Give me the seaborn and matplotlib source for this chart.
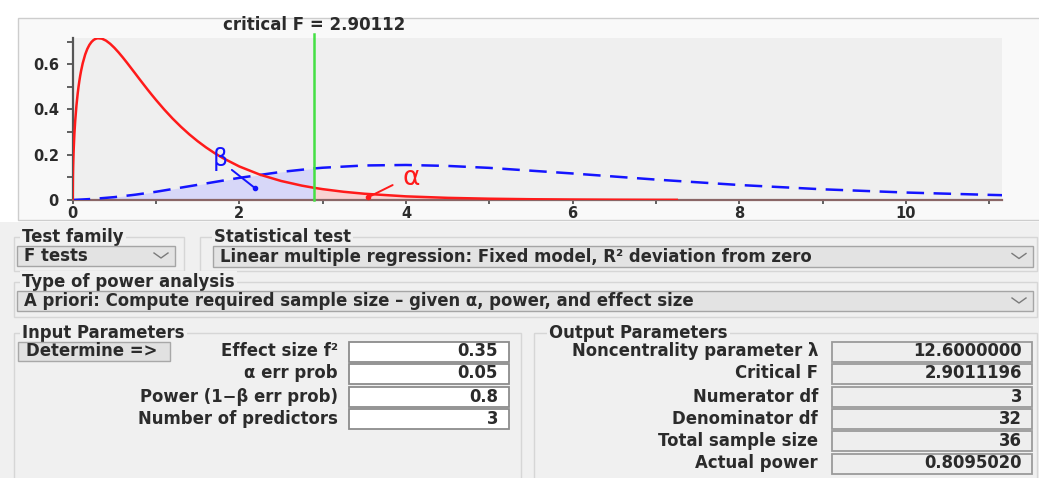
import numpy as np
import pandas as pd
import matplotlib
matplotlib.use("Agg")
import matplotlib.pyplot as plt
from matplotlib.patches import Rectangle
from matplotlib.ticker import FixedLocator
import seaborn as sns

# ---------------- data ----------------
central_x = [0, 0.0025, 0.005, 0.01, 0.02, 0.03, 0.045, 0.06, 0.07, 0.08, 0.09, 0.1,
             0.12, 0.15, 0.175, 0.2, 0.225, 0.25, 0.275, 0.3, 0.35, 0.4, 0.45, 0.5,
             0.55, 0.6, 0.65, 0.7, 0.75, 0.8, 0.85, 0.9, 0.95, 1.0, 1.1, 1.2, 1.3,
             1.4, 1.5, 1.6, 1.7, 1.8, 2.0, 2.25, 2.5, 2.75, 2.9, 3.0, 3.25, 3.5, 4.0,
             4.5, 5.0, 5.5, 6.0, 6.5, 7.0, 7.25]
central_y = [0, 0.1056, 0.1488, 0.2086, 0.2903, 0.3497, 0.4180, 0.4709, 0.5005,
             0.5264, 0.5493, 0.5696, 0.6041, 0.6434, 0.6674, 0.6853, 0.6982, 0.7071,
             0.7124, 0.7149, 0.7132, 0.7044, 0.6904, 0.6728, 0.6526, 0.6306, 0.6074,
             0.5834, 0.5594, 0.5351, 0.5112, 0.4875, 0.4645, 0.4421, 0.3993, 0.3596,
             0.3233, 0.2900, 0.2598, 0.2325, 0.2079, 0.1858, 0.1482, 0.1117, 0.0842,
             0.0635, 0.0537, 0.0480, 0.0364, 0.0277, 0.0161, 0.0095, 0.0057, 0.0034,
             0.0021, 0.0013, 0.0008, 0.0007]
noncentral_x = [0, 0.25, 0.5, 0.75, 1.0, 1.5, 2.0, 2.5, 2.9, 3.0, 3.5, 4.0, 4.5, 5.0,
                6.0, 7.0, 8.0, 9.0, 10.0, 11.0, 11.2]
noncentral_y = [0, 0.0050, 0.0127, 0.0234, 0.0364, 0.0670, 0.0979, 0.1241, 0.1396,
                0.1426, 0.1526, 0.1548, 0.1506, 0.1420, 0.1172, 0.0902, 0.0663, 0.0473,
                0.0330, 0.0227, 0.0209]
critical_f = 2.90112
x_major_ticks = [0, 2, 4, 6, 8, 10]
x_minor_ticks = [1, 3, 5, 7, 9, 11]
y_major_ticks = [0, 0.2, 0.4, 0.6]
y_major_labels = ["0", "0.2", "0.4", "0.6"]
y_minor_ticks = [0.1, 0.3, 0.5, 0.7]

test_family = "F tests"
statistical_test = "Linear multiple regression: Fixed model, R\u00b2 deviation from zero"
analysis_type = "A priori: Compute required sample size \u2013 given \u03b1, power, and effect size"
input_labels = ["Effect size f\u00b2", "\u03b1 err prob", "Power (1\u2212\u03b2 err prob)",
                "Number of predictors"]
input_values = ["0.35", "0.05", "0.8", "3"]
output_labels = ["Noncentrality parameter \u03bb", "Critical F", "Numerator df",
                 "Denominator df", "Total sample size", "Actual power"]
output_values = ["12.6000000", "2.9011196", "3", "32", "36", "0.8095020"]

# ---------------- figure ----------------
W, H = 1039, 478
fig = plt.figure(figsize=(W / 100, H / 100), dpi=100, facecolor="white")
plt.rcParams["font.family"] = ["DejaVu Sans"]

ui = fig.add_axes([0, 0, 1, 1], zorder=0)
ui.set_xlim(0, W)
ui.set_ylim(H, 0)
ui.axis("off")

TXT = "#2b2b2b"
BG = "#f0f0f0"
FS = 11.9
FW = "bold"


def rect(x0, y0, x1, y1, fc, ec, lw=1.0, z=1):
    ui.add_patch(Rectangle((x0, y0), x1 - x0, y1 - y0, facecolor=fc,
                           edgecolor=ec, linewidth=lw, zorder=z))


def group(x0, y0, x1, y1, title, tx):
    rect(x0, y0, x1, y1, "none", "#d6d6d6", 1.0, 2)
    ui.text(tx, y0, title, ha="left", va="center", fontsize=FS, fontweight=FW,
            color=TXT, zorder=3,
            bbox=dict(facecolor=BG, edgecolor="none", pad=1.5))


def chevron(cx, cy):
    ui.plot([cx - 7, cx, cx + 7], [cy - 3, cy + 2, cy - 3], color="#7a7a7a",
            lw=1.0, zorder=4)


def combo(x0, y0, x1, y1, text):
    rect(x0, y0, x1, y1, "#e3e3e3", "#a5a5a5", 1.0, 3)
    ui.text(x0 + 7, (y0 + y1) / 2, text, ha="left", va="center", fontsize=FS,
            fontweight=FW, color=TXT, zorder=4)
    chevron(x1 - 14, (y0 + y1) / 2)


# backgrounds
rect(0, 222, W, H, BG, "none", 0, 0)
rect(18, 18, W + 5, 220, "#f9f9f9", "#cdcdcd", 1.0, 1)

# group boxes
group(14, 237, 184, 271, "Test family", 22)
group(200, 237, 1037, 271, "Statistical test", 214)
group(14, 282, 1037, 317, "Type of power analysis", 22)
group(14, 333, 521, 485, "Input Parameters", 22)
group(534, 333, 1037, 485, "Output Parameters", 549)

combo(17, 246, 175, 266, test_family)
combo(213, 246, 1033, 267, statistical_test)
combo(17, 291, 1033, 311, analysis_type)

# determine button
rect(18, 342, 170, 361, "#e1e1e1", "#a8a8a8", 1.0, 3)
ui.text(26, 351.5, "Determine =>", ha="left", va="center", fontsize=FS,
        fontweight=FW, color=TXT, zorder=4)

in_rows = [351.5, 373.5, 396.5, 419]
for lab, val, cy in zip(input_labels, input_values, in_rows):
    ui.text(338, cy, lab, ha="right", va="center", fontsize=FS, fontweight=FW,
            color=TXT, zorder=4)
    rect(349, cy - 10, 509, cy + 10, "white", "#8c8c8c", 1.3, 3)
    ui.text(498, cy, val, ha="right", va="center", fontsize=FS, fontweight=FW,
            color=TXT, zorder=4)

out_rows = [351.5, 373.5, 396.5, 419, 441, 463.5]
for lab, val, cy in zip(output_labels, output_values, out_rows):
    ui.text(818, cy, lab, ha="right", va="center", fontsize=FS, fontweight=FW,
            color=TXT, zorder=4)
    rect(832, cy - 10, 1032, cy + 10, "#eeeeee", "#9a9a9a", 1.3, 3)
    ui.text(1022, cy, val, ha="right", va="center", fontsize=FS, fontweight=FW,
            color=TXT, zorder=4)

# ---------------- distribution plot ----------------
L, R, T, B = 72.7, 1001.7, 38.0, 200.0
ax = fig.add_axes([L / W, 1 - B / H, (R - L) / W, (B - T) / H], zorder=2)
ax.set_facecolor("#efefef")

df_c = pd.DataFrame({"F": central_x, "density": central_y})
df_n = pd.DataFrame({"F": noncentral_x, "density": noncentral_y})

mask_b = df_n["F"] <= critical_f
ax.fill_between(df_n["F"][mask_b], 0, df_n["density"][mask_b], color="#d7d7f8",
                lw=0, zorder=1)
mask_a = df_c["F"] >= 2.9
ax.fill_between(df_c["F"][mask_a], 0, df_c["density"][mask_a], color="#f9d2d2",
                lw=0, zorder=1)

sns.lineplot(data=df_n, x="F", y="density", color="#1414ff", lw=1.8,
             linestyle=(0, (7, 3.8)), ax=ax, zorder=3, errorbar=None)
sns.lineplot(data=df_c, x="F", y="density", color="#ff1a1a", lw=1.8, ax=ax,
             zorder=4, errorbar=None)

ax.axvline(critical_f, ymin=0, ymax=1.025, color="#44e044", lw=1.8, zorder=5,
           clip_on=False)
ax.text(critical_f, 1.08, f"critical F = {critical_f}", transform=ax.get_xaxis_transform(),
        ha="center", va="center", fontsize=12, fontweight="bold", color=TXT)

# beta / alpha pointers
ax.text(1.77, 0.18, "\u03b2", color="#1414ff", fontsize=17, ha="center",
        va="center", zorder=6)
ax.annotate("", xy=(2.19, 0.052), xytext=(1.91, 0.133),
            arrowprops=dict(arrowstyle="-", color="#1414ff", lw=1.4,
                            shrinkA=0, shrinkB=0), zorder=6)
ax.plot([2.19], [0.052], "o", color="#1414ff", ms=3, zorder=6)
ax.text(4.06, 0.097, "\u03b1", color="#ff1a1a", fontsize=19, ha="center",
        va="center", zorder=6)
ax.annotate("", xy=(3.55, 0.013), xytext=(3.84, 0.066),
            arrowprops=dict(arrowstyle="-", color="#ff1a1a", lw=1.4,
                            shrinkA=0, shrinkB=0), zorder=6)
ax.plot([3.55], [0.013], "o", color="#ff1a1a", ms=3, zorder=6)

ax.set_xlim(0, 11.15)
ax.set_ylim(0, 0.716)
ax.set_xticks(x_major_ticks)
ax.set_xticklabels([str(t) for t in x_major_ticks])
ax.xaxis.set_minor_locator(FixedLocator(x_minor_ticks))
ax.set_yticks(y_major_ticks)
ax.set_yticklabels(y_major_labels)
ax.yaxis.set_minor_locator(FixedLocator(y_minor_ticks))
ax.set_xlabel("")
ax.set_ylabel("")
ax.tick_params(axis="x", which="both", direction="out", length=3, width=1.3,
               color="#555555", pad=1.5, labelsize=10.5, labelcolor=TXT)
ax.tick_params(axis="y", which="both", direction="out", length=4, width=1.3,
               color="#555555", pad=6, labelsize=10.5, labelcolor=TXT)
for lab in ax.get_xticklabels() + ax.get_yticklabels():
    lab.set_fontweight("bold")
for s in ["top", "right"]:
    ax.spines[s].set_visible(False)
ax.spines["left"].set_color("#555555")
ax.spines["left"].set_linewidth(1.6)
ax.spines["bottom"].set_color("#8a6666")
ax.spines["bottom"].set_linewidth(1.6)
ax.grid(False)

fig.savefig("out.png", dpi=100, facecolor=fig.get_facecolor())
